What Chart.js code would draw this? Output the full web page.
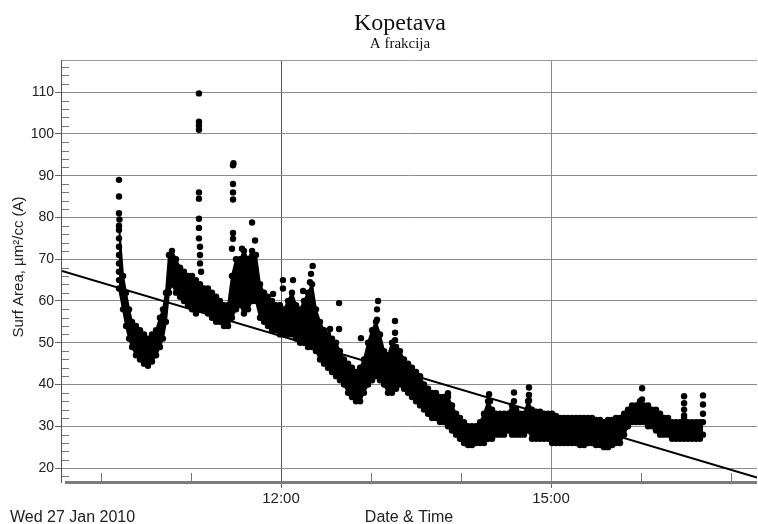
<!DOCTYPE html>
<html><head><meta charset="utf-8">
<style>html,body{margin:0;padding:0;background:#fff}#wrap{width:758px;height:524px;position:relative}</style>
<script src="https://cdn.jsdelivr.net/npm/chart.js@4/dist/chart.umd.min.js"></script>
</head><body><div id="wrap"><canvas id="c" width="758" height="524"></canvas></div>
<script>
const titleText = 'Kopetava';
const subtitleText = 'A frakcija';
const yAxisTitle = 'Surf Area, µm²/cc (A)';
const xAxisTitle = 'Date & Time';
const dateLabel = 'Wed 27 Jan 2010';
// time in minutes after midnight
const xMajorTicks = [720, 900];
const xMinorTicks = [600, 660, 780, 840, 960, 1020];
const yTicks = [20, 30, 40, 50, 60, 70, 80, 90, 100, 110];
const yMinorTicks = [18,22,24,26,28,32,34,36,38,42,44,46,48,52,54,56,58,62,64,66,68,72,74,76,78,82,84,86,88,92,94,96,98,102,104,106,108,112,114,116];

const bandTime = [612.0,614.7,616.7,618.7,620.7,623.3,626.0,628.7,631.3,634.0,636.7,639.3,641.3,643.3,645.3,647.3,650.0,652.7,655.3,658.0,660.7,663.3,666.0,668.7,671.3,674.0,676.7,679.3,682.0,684.7,687.3,690.0,692.7,695.3,698.0,700.7,703.3,706.0,708.7,711.3,714.0,716.7,719.3,722.0,724.7,727.3,730.0,732.7,735.3,738.0,740.7,743.3,746.0,748.7,751.3,754.0,756.7,759.3,762.0,764.7,767.3,770.0,772.7,775.3,778.0,780.7,783.3,786.0,788.7,791.3,794.0,796.7,799.3,802.0,804.7,807.3,810.0,812.7,815.3,818.0,820.7,823.3,826.0,828.7,831.3,834.0,836.7,839.3,842.0,844.7,847.3,850.0,852.7,855.3,858.0,860.7,863.3,866.0,868.7,871.3,874.0,876.7,879.3,882.0,884.7,887.3,890.0,892.7,895.3,898.0,900.7,903.3,906.0,908.7,911.3,914.0,916.7,919.3,922.0,924.7,927.3,930.0,932.7,935.3,938.0,940.7,943.3,946.0,948.7,951.3,954.0,956.7,959.3,962.0,964.7,967.3,970.0,972.7,975.3,978.0,980.7,983.3,986.0,988.7,991.3,994.0,996.7,999.3,1001.3];
const bandLow = [63,58,54,51,49,47,46,45,44.5,45.5,47,49,51,55,62,64,62,61,60,59,58,57,58,58,57,56,55,55,54,54,56,58,59,57,58,60,60,56,55,54,53,53,52,52,52,52,51,50,50,49,49,48,46,45,44,43,42,41,40,38,37,36,36,38,40,41,42,41,40,38,38,39,40,39,38,37,36,35,34,33,32,32,31,31,30,29,28,27,26,25.5,25.5,26,26,26,27,27,28,28,28,29,28,28,28,28,29,
  27,27,27,27,27,26,26,26,26,26,26,26,25.5,25.5,26,26,25.5,25.5,25,25,25.5,26,26,
  28,30,31,31,31,31,30,30,29,28,28,28,27,27,27,27,27,27,27,27,28];
const bandHigh = [78,66,62,58,55,54,53,52,51,52,53,56,58,62,71,72,70,68,67,66,66,65,64,63,63,62,61,60,59,59,66,70,70,72,70,72,71,64,62,61,60,59,59,58,60,62,59,58,60,62,64,58,55,53,52,51,50,48,46,45,44,43,44,46,50,53,55,52,48,47,50,49,48,46,45,44,43,42,40,39,38,38,37,37,37,35,33,32,31,30,30,30,31,33,36,34,33,33,33,33,35,34,33,33,36,
  34,33.5,33.5,33,33,33,32.5,32,32,32,32,32,32,32,32,32,31.5,31.5,31,31.5,31.5,32,32,
  33,34,35,35,36,35,35,34,34,33,32,32,31,31,31,32,31,31,31,31,31];

const spikeTime = [612,612,612,612.3,612,612,612,612,612,612,612,
  665.3,665.3,665.3,665.3,665.3,665.3,665.3,665.3,665.3,666,666,666,666.7,
  688,688.3,688,688,688,688,688,687.3,
  700.7,694,702.7,
  721.3,721.3,728,714.7,
  741.1,740,739.3,734.7,
  752.7,758.7,758.7,
  773.3,
  784.7,784,784,
  796,796,796,
  831.3,
  858.7,859.3,
  875.3,875.3,
  885.3,885.3,885.3,
  960.7,960.7,
  988.7,988.7,988.7,988.7,
  1001.3,1001.3,1001.3];
const spikeValue = [89,85,81,79.5,77,75,73,71,69,67,65,
  109.7,102.9,102,101,86,84.5,79.7,77.5,75,73,71,69,67,
  92.5,93,88,86,84.3,76.3,74.9,72.5,
  78.8,72.5,74.5,
  65,63,65,61.7,
  68.4,66.5,64.5,62.4,
  53.3,53.3,59.5,
  51.1,
  60,58,55.5,
  55.2,52.4,50.6,
  37.9,
  37.7,36,
  38.1,36,
  39.3,37.5,36.2,
  39.1,36.4,
  37.2,35.5,34,32.6,
  37.4,35.2,33];

const trendTime = [574, 1037.3];
const trendValue = [67.2, 17.7];

const X_MIN = 574, X_MAX = 1037.3, Y_MIN = 16.9, Y_MAX = 117.7;
const SANS = '"Liberation Sans", Arial, sans-serif';
const SERIF = '"Liberation Serif", "Times New Roman", serif';

function pts(xs, ys){ return xs.map((x,i)=>({x:x, y:ys[i]})); }
function hhmm(m){ const h=Math.floor(m/60), mm=Math.round(m%60); return h+':'+String(mm).padStart(2,'0'); }

const deco = {
  id: 'deco',
  afterDraw(chart){
    const {ctx, chartArea:a, scales:{x, y}} = chart;
    ctx.save();
    ctx.strokeStyle = '#9a9a9a'; ctx.lineWidth = 1;
    ctx.beginPath(); ctx.moveTo(a.left, a.top + 0.5); ctx.lineTo(a.right, a.top + 0.5); ctx.stroke();
    ctx.strokeStyle = '#555';
    ctx.beginPath(); ctx.moveTo(a.left - 0.5, a.top); ctx.lineTo(a.left - 0.5, a.bottom + 2); ctx.stroke();
    ctx.strokeStyle = '#777';
    yMinorTicks.forEach(v => {
      const py = Math.round(y.getPixelForValue(v)) + 0.5;
      if (py < a.top || py > a.bottom) return;
      ctx.beginPath(); ctx.moveTo(a.left, py); ctx.lineTo(a.left + 7, py); ctx.stroke();
    });
    xMinorTicks.forEach(v => {
      const px = Math.round(x.getPixelForValue(v)) + 0.5;
      ctx.beginPath(); ctx.moveTo(px, a.bottom); ctx.lineTo(px, a.bottom - 8); ctx.stroke();
    });
    ctx.fillStyle = '#7c7c7c';
    ctx.fillRect(a.left + 3, a.bottom, a.right - a.left - 3, 3);
    ctx.fillStyle = '#111';
    ctx.textAlign = 'center'; ctx.textBaseline = 'alphabetic';
    ctx.font = '24px ' + SERIF;
    ctx.fillText(titleText, 400, 30);
    ctx.font = '15px ' + SERIF;
    ctx.fillText(subtitleText, 400, 48);
    ctx.fillStyle = '#222';
    ctx.font = '16px ' + SANS;
    ctx.fillText(xAxisTitle, 409, 522);
    ctx.textAlign = 'left';
    ctx.fillText(dateLabel, 10, 522);
    ctx.save();
    ctx.translate(23, 267); ctx.rotate(-Math.PI/2);
    ctx.textAlign = 'center';
    ctx.font = '15px ' + SANS;
    ctx.fillText(yAxisTitle, 0, 0);
    ctx.restore();
    ctx.restore();
  }
};

new Chart(document.getElementById('c'), {
  type: 'line',
  data: {
    datasets: [
      { data: pts(bandTime, bandLow), borderColor: '#000', borderWidth: 2, pointRadius: 3.2, pointBorderWidth: 0, pointBackgroundColor: '#000', fill: false, tension: 0 },
      { data: pts(bandTime, bandHigh), borderColor: '#000', borderWidth: 2, pointRadius: 3.2, pointBorderWidth: 0, pointBackgroundColor: '#000', backgroundColor: '#000', fill: '-1', tension: 0 },
      { data: pts(spikeTime, spikeValue), showLine: false, pointRadius: 3.2, pointBorderWidth: 0, pointBackgroundColor: '#000' },
      { data: pts(trendTime, trendValue), borderColor: '#000', borderWidth: 2, pointRadius: 0, fill: false }
    ]
  },
  options: {
    responsive: false, animation: false, devicePixelRatio: 1,
    layout: { autoPadding: false, padding: { top: 60, right: 1, left: 0, bottom: 0 } },
    plugins: { legend: { display: false }, tooltip: { enabled: false }, title: { display: false } },
    scales: {
      x: {
        type: 'linear', min: X_MIN, max: X_MAX,
        afterBuildTicks: s => { s.ticks = xMajorTicks.map(v => ({ value: v })); },
        afterFit: s => { s.height = 43; },
        grid: { color: c => (c.tick && c.tick.value === 720) ? '#555' : '#8a8a8a', lineWidth: 1, tickLength: 7, tickColor: '#666' },
        border: { display: false },
        ticks: { callback: v => hhmm(v), font: { family: SANS, size: 15 }, color: '#222', padding: 2, maxRotation: 0, autoSkip: false }
      },
      y: {
        type: 'linear', min: Y_MIN, max: Y_MAX,
        afterBuildTicks: s => { s.ticks = yTicks.map(v => ({ value: v })); },
        afterFit: s => { s.width = 62; },
        grid: { color: '#8a8a8a', lineWidth: 1, tickLength: 7, tickColor: '#666' },
        border: { display: false },
        ticks: { font: { family: SANS, size: 14 }, color: '#222', padding: 1 }
      }
    }
  },
  plugins: [deco]
});
</script>
</body></html>
